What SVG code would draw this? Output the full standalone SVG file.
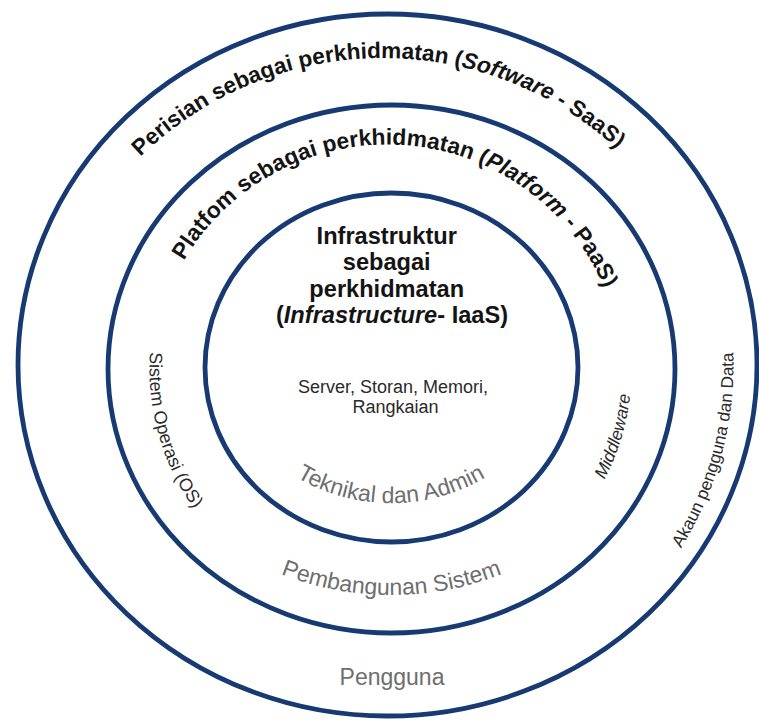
<svg xmlns="http://www.w3.org/2000/svg" xmlns:xlink="http://www.w3.org/1999/xlink" width="759" height="721" viewBox="0 0 759 721">
  <style>
    .ring { fill: none; stroke: #173a72; stroke-width: 4.8; }
    .title { font-family: "Liberation Sans", Arial, sans-serif; font-weight: bold; fill: #141414; }
    .dark { font-family: "Liberation Sans", Arial, sans-serif; fill: #2a2a2a; }
    .grey { font-family: "Liberation Sans", Arial, sans-serif; fill: #6e6e6e; font-size: 23px; }
    .it { font-style: italic; }
  </style>
  <defs>
    <path id="p-outer-top" d="M 140.2 157.1 A 347 347 0 0 1 617.4 149.2"/>
    <path id="p-mid-top" d="M 182 264 A 236 236 0 0 1 606 292"/>
    <path id="p-inner-bottom" d="M 283.7 469.2 A 187 187 0 0 0 498.3 469.2"/>
    <path id="p-mid-bottom" d="M 264.7 566.9 A 300 300 0 0 0 518.3 566.9"/>
    <path id="p-os" d="M 150.1 352.1 A 242 242 0 0 0 206.1 524.6"/>
    <path id="p-mw" d="M 604.4 479.8 A 240 240 0 0 0 630.6 348.1"/>
    <path id="p-akaun" d="M 680.9 548.4 A 346 346 0 0 0 728.2 304.9"/>
  </defs>

  <g id="connectors"/>

  <g id="saas">
    <ellipse class="ring" cx="387.5" cy="365" rx="369.5" ry="351"/>
    <text class="title" font-size="22.6"><textPath xlink:href="#p-outer-top" href="#p-outer-top" startOffset="50%" text-anchor="middle">Perisian sebagai perkhidmatan (<tspan class="it">Software</tspan> - SaaS)</textPath></text>
    <text class="dark" font-size="17.3"><textPath xlink:href="#p-akaun" href="#p-akaun">Akaun pengguna dan Data</textPath></text>
    <text class="grey" x="392" y="685" text-anchor="middle">Pengguna</text>
  </g>

  <g id="paas">
    <ellipse class="ring" cx="391.5" cy="369" rx="283.5" ry="264"/>
    <text class="title" font-size="22.8"><textPath xlink:href="#p-mid-top" href="#p-mid-top" startOffset="50%" text-anchor="middle">Platfom sebagai perkhidmatan (<tspan class="it">Platform</tspan> - PaaS)</textPath></text>
    <text class="dark" font-size="18"><textPath xlink:href="#p-os" href="#p-os">Sistem Operasi (OS)</textPath></text>
    <text class="dark it" font-size="17.5"><textPath xlink:href="#p-mw" href="#p-mw">Middleware</textPath></text>
    <text class="grey"><textPath xlink:href="#p-mid-bottom" href="#p-mid-bottom" startOffset="50%" text-anchor="middle">Pembangunan Sistem</textPath></text>
  </g>

  <g id="iaas">
    <ellipse class="ring" cx="391.5" cy="367.5" rx="186.5" ry="174.5"/>
    <text class="title" font-size="23.6" text-anchor="middle">
      <tspan x="390" y="243.5">Infrastruktur</tspan>
      <tspan x="390" y="270">sebagai</tspan>
      <tspan x="390" y="296.5">perkhidmatan</tspan>
      <tspan x="392" y="322.5">(<tspan class="it">Infrastructure</tspan>- IaaS)</tspan>
    </text>
    <text class="dark" font-size="18" text-anchor="middle">
      <tspan x="395.5" y="393.3">Server, Storan, Memori,</tspan>
      <tspan x="395.5" y="412.7">Rangkaian</tspan>
    </text>
    <text class="grey"><textPath xlink:href="#p-inner-bottom" href="#p-inner-bottom" startOffset="50%" text-anchor="middle">Teknikal dan Admin</textPath></text>
  </g>
</svg>
